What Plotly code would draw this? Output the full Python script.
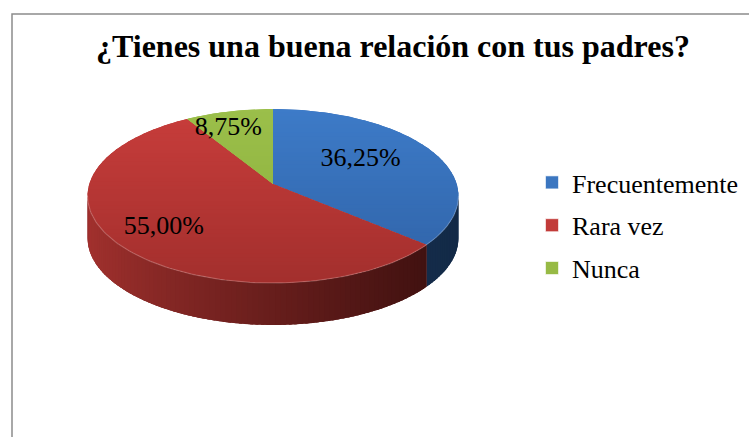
import numpy as np
import plotly.graph_objects as go

# ---- data ----
categories = ["Frecuentemente", "Rara vez", "Nunca"]
percentages = [36.25, 55.00, 8.75]
title_text = "¿Tienes una buena relación con tus padres?"

# ---- style ----
top_upper = ["#3D7BC8", "#C83D3B", "#9BBF4A"]
top_lower = ["#2F62A6", "#A32F2D", "#8AAE3C"]
legend_colors = ["#3B76C0", "#C23B39", "#97BA45"]
side_left = {0: "#1F3F66", 1: "#A3312E"}
side_right = {0: "#132A47", 1: "#3A0F0E"}
FONT = "Liberation Serif, Times New Roman, serif"

# projection of the tilted pie (pixel space)
CX, CY = 273.0, 184.0
SX, SY = 183.7, 85.3
A = 0.138
DEPTH = 42.0
START = 90.0

LABEL_R = [0.58, 0.73, 0.74]
LABEL_NUDGE = [(-6, -4), (0, 0), (-11, 0)]


def proj(r, th_deg):
    th = np.radians(th_deg)
    X = r * np.cos(th)
    Z = r * np.sin(th)
    d = 1 + A * Z
    return CX + SX * X / d, CY - SY * Z / d


def hex2rgb(h):
    h = h.lstrip("#")
    return np.array([int(h[i:i + 2], 16) for i in (0, 2, 4)], float)


def mix(c1, c2, t):
    c = hex2rgb(c1) * (1 - t) + hex2rgb(c2) * t
    return "rgb(%d,%d,%d)" % tuple(np.round(c))


def clip_y(pts, yv, keep_above):
    # keep points with y >= yv (keep_above) or y <= yv
    def inside(p):
        return p[1] >= yv if keep_above else p[1] <= yv
    out = []
    n = len(pts)
    for i in range(n):
        cur, prev = pts[i], pts[i - 1]
        ci, pi = inside(cur), inside(prev)
        if ci:
            if not pi:
                t = (yv - prev[1]) / (cur[1] - prev[1])
                out.append((prev[0] + t * (cur[0] - prev[0]), yv))
            out.append(cur)
        elif pi:
            t = (yv - prev[1]) / (cur[1] - prev[1])
            out.append((prev[0] + t * (cur[0] - prev[0]), yv))
    return out


def poly_trace(pts, col):
    xs = [p[0] for p in pts] + [pts[0][0]]
    ys = [p[1] for p in pts] + [pts[0][1]]
    return go.Scatter(x=xs, y=ys, mode="lines", fill="toself", fillcolor=col,
                      line=dict(width=0), hoverinfo="skip", showlegend=False)


fig = go.Figure()

# slice angle ranges (clockwise from 12 o'clock)
ranges = []
acc = START
for p in percentages:
    a0 = acc
    a1 = acc - 360.0 * p / 100.0
    ranges.append((a0, a1))
    acc = a1

# visible side range (silhouette points where sin = -A)
vis_hi = -np.degrees(np.arcsin(A))
vis_lo = -180.0 + np.degrees(np.arcsin(A))
xl, _ = proj(1, vis_lo)
xr, _ = proj(1, vis_hi)

# side walls
for i, (a0, a1) in enumerate(ranges):
    hi = min(a0, vis_hi)
    lo = max(a1, vis_lo)
    if hi <= lo:
        continue
    ts = np.linspace(hi, lo, 200)
    xs, ys = proj(1, ts)
    base = mix(side_left[i], side_right[i], 0.5)
    pts = list(zip(xs, ys)) + list(zip(xs[::-1], ys[::-1] + DEPTH))
    fig.add_trace(poly_trace(pts, base))
    n = max(2, int(np.ceil((hi - lo) / 1.5)))
    edges = np.linspace(hi, lo, n + 1)
    for k in range(n):
        e0 = min(edges[k] + 0.4, hi)
        e1 = max(edges[k + 1] - 0.4, lo)
        ts = np.linspace(e0, e1, 4)
        xs, ys = proj(1, ts)
        pts = list(zip(xs, ys)) + list(zip(xs[::-1], ys[::-1] + DEPTH))
        t = (float(np.mean(xs)) - xl) / (xr - xl)
        t = min(max(t, 0), 1)
        fig.add_trace(poly_trace(pts, mix(side_left[i], side_right[i], t ** 0.8)))

# top faces with vertical gradient
_, ytop = proj(1, 90)
_, ybot = proj(1, -90)
for i, (a0, a1) in enumerate(ranges):
    ts = np.linspace(a0, a1, max(3, int(abs(a0 - a1)) + 1))
    xs, ys = proj(1, ts)
    pts = [(CX, CY)] + list(zip(xs, ys))
    fig.add_trace(poly_trace(pts, mix(top_upper[i], top_lower[i], 0.5)))
    ymin = min(p[1] for p in pts)
    ymax = max(p[1] for p in pts)
    bands = np.arange(np.floor(ymin), ymax + 4, 4.0)
    for k in range(len(bands) - 1):
        b0, b1 = bands[k] - 0.6, bands[k + 1] + 0.6
        sub = clip_y(pts, b0, True)
        if len(sub) < 3:
            continue
        sub = clip_y(sub, b1, False)
        if len(sub) < 3:
            continue
        t = ((bands[k] + bands[k + 1]) / 2 - ytop) / (ybot - ytop)
        t = min(max(t, 0), 1)
        fig.add_trace(poly_trace(sub, mix(top_upper[i], top_lower[i], t)))

# highlight along the front rim
ts = np.linspace(vis_hi, vis_lo, 120)
xs, ys = proj(1, ts)
fig.add_trace(go.Scatter(x=xs, y=ys, mode="lines",
                         line=dict(color="rgba(255,255,255,0.22)", width=1.2),
                         hoverinfo="skip", showlegend=False))

# data labels
lx, ly, lt = [], [], []
for i, (a0, a1) in enumerate(ranges):
    mid = (a0 + a1) / 2
    x, y = proj(LABEL_R[i], mid)
    lx.append(float(x) + LABEL_NUDGE[i][0])
    ly.append(float(y) + LABEL_NUDGE[i][1])
    lt.append(("%.2f" % percentages[i]).replace(".", ",") + "%")
fig.add_trace(go.Scatter(x=lx, y=ly, mode="text", text=lt,
                         textfont=dict(family=FONT, size=26, color="black"),
                         hoverinfo="skip", showlegend=False))

# legend entries
for i, c in enumerate(categories):
    fig.add_trace(go.Scatter(x=[None], y=[None], mode="markers", name=c,
                             legendgroup=c,
                             marker=dict(symbol="square", size=13,
                                         color=legend_colors[i],
                                         line=dict(color="rgba(255,255,255,0.6)", width=1))))

fig.update_layout(
    width=749, height=437,
    margin=dict(l=0, r=0, t=0, b=0),
    paper_bgcolor="white", plot_bgcolor="white",
    font=dict(family=FONT, color="black"),
    xaxis=dict(range=[0, 749], visible=False, fixedrange=True),
    yaxis=dict(range=[437, 0], visible=False, fixedrange=True),
    showlegend=True,
    legend=dict(x=532 / 749, xanchor="left", y=1 - 159 / 437, yanchor="top",
                font=dict(family=FONT, size=26, color="black"),
                tracegroupgap=6, traceorder="grouped",
                bgcolor="rgba(0,0,0,0)"),
    annotations=[dict(x=393, y=46, xref="x", yref="y", text="<b>%s</b>" % title_text,
                      showarrow=False, font=dict(family=FONT, size=32, color="black"),
                      xanchor="center", yanchor="middle")],
    shapes=[dict(type="rect", xref="x", yref="y", x0=12, y0=14, x1=900, y1=600,
                 line=dict(color="#8C8C8C", width=1.5), layer="above")],
)

fig.write_html("out.html", config={"displayModeBar": False},
               post_script="document.body.style.margin='0px';")
